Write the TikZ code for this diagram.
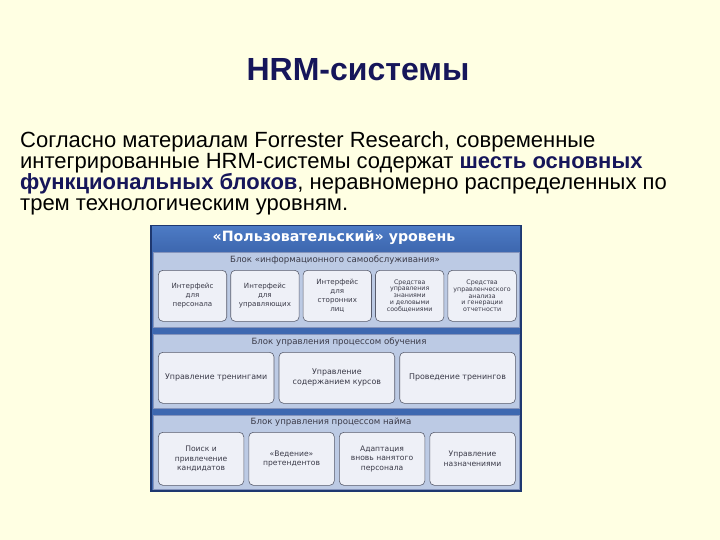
\documentclass[tikz,border=0pt]{standalone}
\usepackage{fontspec}
\setmainfont{Liberation Sans}
\newfontfamily\hdrfont{DejaVu Sans}
\newfontfamily\boxfont{DejaVu Sans}
\definecolor{bg}{HTML}{FFFFE3}
\definecolor{navy}{HTML}{16165A}
\definecolor{frame}{HTML}{1E3870}
\definecolor{band}{HTML}{3E68B0}
\definecolor{bandtop}{HTML}{4C7AC4}
\definecolor{sect}{HTML}{BCCAE4}
\definecolor{sectline}{HTML}{8594BC}
\definecolor{boxf}{HTML}{EEF0F7}
\definecolor{boxd}{HTML}{585C6C}
\definecolor{txt}{HTML}{3A3A48}
\begin{document}
\begin{tikzpicture}[x=1pt,y=-1pt,
  cell/.style={draw=boxd, line width=0.6pt, fill=boxf, rounded corners=4.5pt,
    minimum width=#1, align=center, inner sep=1pt,
    font=\boxfont\fontsize{7.1}{9}\selectfont, text=txt, anchor=north west},
  cellA/.style={cell=68.4pt, minimum height=51pt},
  cellB/.style={cell=115.7pt, minimum height=51pt, font=\boxfont\fontsize{7.9}{10}\selectfont},
  cellC/.style={cell=85.5pt, minimum height=53pt, font=\boxfont\fontsize{7.6}{9.5}\selectfont},
  small/.style={font=\boxfont\fontsize{6.3}{6.8}\selectfont},
  seclabel/.style={font=\boxfont\fontsize{8.6}{10}\selectfont, text=txt, inner sep=0pt},
  bodyline/.style={anchor=base west, inner sep=0pt, font=\fontsize{22}{21}\selectfont, text=black}
]
\useasboundingbox (0,0) rectangle (720,540);
\fill[bg] (0,0) rectangle (720,540);

% title
\node[font=\fontsize{32}{34}\selectfont\bfseries, text=navy, inner sep=0pt] (title) at (358,70) {HRM-системы};

% body text
\node[bodyline] (l1) at (20,148) {Согласно материалам Forrester Research, современные};
\node[bodyline] (l2) at (20,169) {интегрированные HRM-системы содержат \textbf{\color{navy}шесть основных}};
\node[bodyline] (l3) at (20,190) {\textbf{\color{navy}функциональных блоков}, неравномерно распределенных по};
\node[bodyline] (l4) at (20,211) {трем технологическим уровням.};

% diagram frame
\fill[frame] (150,225) rectangle (522,492);
\fill[band] (152,227) rectangle (520,490);
\shade[top color=bandtop, bottom color=band] (152,227) rectangle (520,250);
\node[font=\hdrfont\bfseries\fontsize{14.2}{16}\selectfont, text=white, inner sep=0pt] (hdr) at (334,238) {«Пользовательский» уровень};

% sections
\fill[sect, draw=sectline, line width=0.5pt] (153,252) rectangle (519,327);
\fill[sect, draw=sectline, line width=0.5pt] (153,334) rectangle (519,408);
\fill[sect, draw=sectline, line width=0.5pt] (153,415) rectangle (519,489);

% section 1
\node[seclabel] (s1) at (335,260) {Блок «информационного самообслуживания»};
\node[cellA] (a1) at (158,270) {Интерфейс\\для\\персонала};
\node[cellA] (a2) at (230.4,270) {Интерфейс\\для\\управляющих};
\node[cellA] (a3) at (302.8,270) {Интерфейс\\для\\сторонних\\лиц};
\node[cellA, small] (a4) at (375.2,270) {Средства\\управления\\знаниями\\и деловыми\\сообщениями};
\node[cellA, small] (a5) at (447.6,270) {Средства\\управленческого\\анализа\\и генерации\\отчетности};

% section 2
\node[seclabel] (s2) at (339,342) {Блок управления процессом обучения};
\node[cellB] (b1) at (158,352) {Управление тренингами};
\node[cellB] (b2) at (278.7,352) {Управление\\содержанием курсов};
\node[cellB] (b3) at (399.4,352) {Проведение тренингов};

% section 3
\node[seclabel] (s3) at (331,422) {Блок управления процессом найма};
\node[cellC] (c1) at (158,432) {Поиск и\\привлечение\\кандидатов};
\node[cellC] (c2) at (248.5,432) {«Ведение»\\претендентов};
\node[cellC] (c3) at (339,432) {Адаптация\\вновь нанятого\\персонала};
\node[cellC] (c4) at (429.5,432) {Управление\\назначениями};
\end{tikzpicture}
\end{document}
